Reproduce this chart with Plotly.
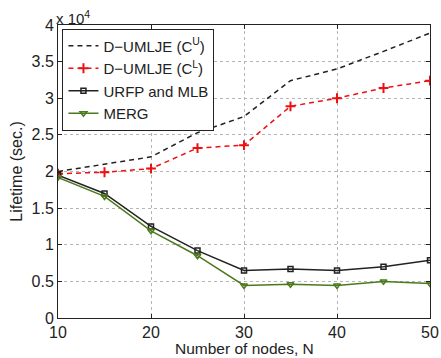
import plotly.graph_objects as go

N = [10, 15, 20, 25, 30, 35, 40, 45, 50]
cu = [2.00, 2.10, 2.20, 2.53, 2.75, 3.24, 3.40, 3.64, 3.89]
cl = [1.97, 1.99, 2.04, 2.32, 2.36, 2.89, 3.00, 3.14, 3.24]
urfp = [1.95, 1.70, 1.25, 0.92, 0.65, 0.67, 0.65, 0.70, 0.79]
merg = [1.92, 1.66, 1.19, 0.85, 0.445, 0.46, 0.445, 0.50, 0.47]
yticks = [0, 0.5, 1, 1.5, 2, 2.5, 3, 3.5, 4]
ytext = ["0", "0.5", "1", "1.5", "2", "2.5", "3", "3.5", "4"]

FONT = "Liberation Sans, Arial, sans-serif"
green = "#4a7a1a"
red = "#ee1111"
dark = "#222222"

fig = go.Figure()
fig.add_trace(go.Scatter(x=N, y=cu, mode="lines", name="D\u2212UMLJE (C<sup>U</sup>)",
                         line=dict(color=dark, width=1.5, dash="5px,4px")))
fig.add_trace(go.Scatter(x=N, y=cl, mode="lines+markers", name="D\u2212UMLJE (C<sup>L</sup>)",
                         line=dict(color=red, width=1.5, dash="5px,4px"),
                         marker=dict(symbol="cross-thin", size=7, line=dict(color=red, width=2))))
fig.add_trace(go.Scatter(x=N, y=urfp, mode="lines+markers", name="URFP and MLB",
                         line=dict(color=dark, width=1.5),
                         marker=dict(symbol="square-open", size=5, line=dict(color=dark, width=1.5))))
fig.add_trace(go.Scatter(x=N, y=merg, mode="lines+markers", name="MERG",
                         line=dict(color=green, width=1.5),
                         marker=dict(symbol="triangle-down-open", size=6, line=dict(color=green, width=1.5))))

axis_common = dict(showline=True, linecolor=dark, linewidth=1, mirror="ticks",
                   ticks="inside", ticklen=4, tickcolor=dark,
                   showgrid=True, gridcolor="#b5b5b5", griddash="dot", gridwidth=1,
                   zeroline=False, automargin=False,
                   tickfont=dict(family=FONT, size=16, color=dark))

fig.update_layout(
    width=441, height=358,
    margin=dict(l=58, r=11, t=25, b=40),
    paper_bgcolor="white", plot_bgcolor="white",
    font=dict(family=FONT, size=16, color=dark),
    xaxis=dict(range=[10, 50], tickvals=[10, 20, 30, 40, 50], **axis_common),
    yaxis=dict(range=[0, 4], tickvals=yticks, ticktext=ytext,
               title=dict(text="Lifetime (sec.)", font=dict(size=16), standoff=4),
               **axis_common),
    legend=dict(x=0.012, y=0.988, xanchor="left", yanchor="top",
                bgcolor="white", bordercolor=dark, borderwidth=1,
                font=dict(family=FONT, size=15, color=dark),
                tracegroupgap=0, itemwidth=30),
    showlegend=True,
)
fig.add_annotation(x=0.5, y=-0.103, xref="paper", yref="paper", xanchor="center", yanchor="middle",
                   text="Number of nodes, N", showarrow=False,
                   font=dict(family=FONT, size=15.5, color=dark))
fig.add_annotation(x=0, y=1, xref="paper", yref="paper", xanchor="left", yanchor="bottom",
                   text="x 10<sup>4</sup>", showarrow=False, yshift=-4, xshift=-4,
                   font=dict(family=FONT, size=15, color=dark))

fig.write_html("out.html", config={"displayModeBar": False},
               post_script="document.body.style.margin='0';document.body.style.overflow='hidden';")
